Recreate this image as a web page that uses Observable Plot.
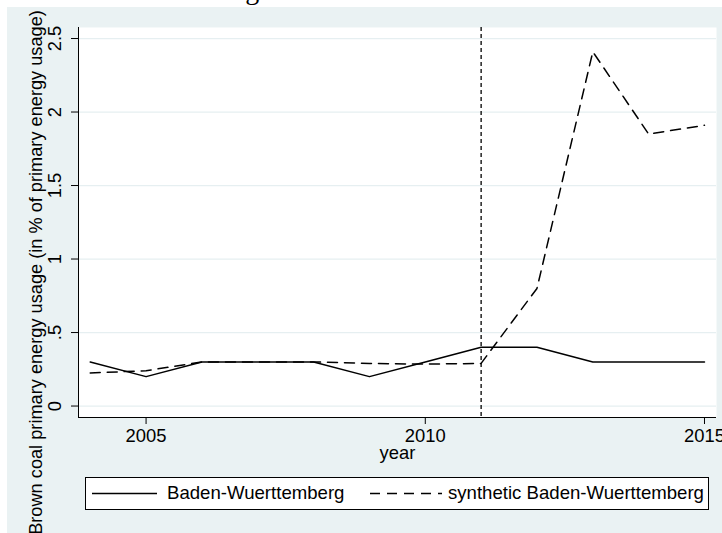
<!DOCTYPE html>
<html>
<head>
<meta charset="utf-8">
<script src="https://cdn.jsdelivr.net/npm/d3@7"></script>
<script src="https://cdn.jsdelivr.net/npm/@observablehq/plot@0.6"></script>
<style>
  html, body { margin: 0; padding: 0; background: #fff; }
  #page { position: relative; width: 722px; height: 533px; overflow: hidden; background: #fff;
          font-family: "Liberation Sans", Arial, Helvetica, sans-serif; }
  #bg { position: absolute; left: 7px; top: 7px; right: 0; bottom: 0; background: #eaf2f3; }
  #title { position: absolute; left: 0; top: 0; width: 722px; height: 8px; overflow: hidden; }
  #title span { position: absolute; left: 222px; top: -24.5px; font-family: "Liberation Serif", "DejaVu Serif", serif;
                font-size: 28px; line-height: 28px; white-space: nowrap; color: #000; }
  #chart { position: absolute; left: 0; top: 0; }
  #legend { position: absolute; left: 85px; top: 477px; width: 622px; height: 31px; background: #fff;
            border: 1px solid #000; font-size: 18.6px; color: #000; }
  #legend svg { position: absolute; top: 0; }
  #legend .lab { position: absolute; top: 5px; white-space: nowrap; line-height: 20px; }
</style>
</head>
<body>
<div id="page">
  <div id="bg"></div>
  <div id="title"><span>Figure 12: Brown Coal</span></div>
  <div id="chart"></div>
  <div id="legend"></div>
</div>
<script>
// ---- data ----
const years = [2004, 2005, 2006, 2007, 2008, 2009, 2010, 2011, 2012, 2013, 2014, 2015];
const bwValues = [0.3, 0.2, 0.3, 0.3, 0.3, 0.2, 0.3, 0.4, 0.4, 0.3, 0.3, 0.3];
const synthValues = [0.225, 0.24, 0.3, 0.3, 0.3, 0.29, 0.285, 0.29, 0.8, 2.41, 1.85, 1.91];
const seriesNames = ["Baden-Wuerttemberg", "synthetic Baden-Wuerttemberg"];
const xTicks = [2005, 2010, 2015];
const yTicks = [0, 0.5, 1, 1.5, 2, 2.5];
const yTickLabels = ["0", ".5", "1", "1.5", "2", "2.5"];
const treatmentYear = [2011];
const xTitle = "year";
const yTitle = "Brown coal primary energy usage (in % of primary energy usage)";

const bwData = years.map((y, i) => ({year: y, value: bwValues[i]}));
const synthData = years.map((y, i) => ({year: y, value: synthValues[i]}));

const xDomain = [2003.79, 2015.215];
const yDomain = [-0.078, 2.575];

const chart = Plot.plot({
  width: 722,
  height: 533,
  marginLeft: 78,
  marginRight: 6,
  marginTop: 27,
  marginBottom: 116,
  style: {background: "transparent", fontFamily: "'Liberation Sans', Arial, Helvetica, sans-serif", fontSize: "18px", color: "#000", overflow: "visible"},
  x: {domain: xDomain},
  y: {domain: yDomain},
  marks: [
    Plot.frame({fill: "white", stroke: "none"}),
    Plot.gridY(yTicks, {stroke: "#e6eff1", strokeOpacity: 1, strokeWidth: 1.3}),
    Plot.ruleX(treatmentYear, {stroke: "#000", strokeWidth: 1.3, strokeDasharray: "4,3"}),
    Plot.line(bwData, {x: "year", y: "value", stroke: "#000", strokeWidth: 1.5}),
    Plot.line(synthData, {x: "year", y: "value", stroke: "#000", strokeWidth: 1.5, strokeDasharray: "10,7"}),
    Plot.ruleX([xDomain[0]], {stroke: "#000", strokeWidth: 1}),
    Plot.ruleY([yDomain[0]], {stroke: "#000", strokeWidth: 1}),
    Plot.axisY({ticks: yTicks, tickSize: 7, tickFormat: () => "", label: null, stroke: "#000"}),
    Plot.text(yTicks, {y: d => d, text: (d, i) => yTickLabels[i], frameAnchor: "left", textAnchor: "middle", rotate: -90, dx: -23, fontSize: 18.4, fill: "#000"}),
    Plot.axisX({ticks: xTicks, tickSize: 7, tickPadding: 4, tickFormat: d => String(d), label: null, fontSize: 18.4, stroke: "#000"}),
    Plot.text([xTitle], {frameAnchor: "bottom", textAnchor: "middle", dy: 41, text: d => d, fontSize: 18.4, fill: "#000"}),
    Plot.text([yTitle], {frameAnchor: "left", textAnchor: "middle", rotate: -90, dx: -42, dy: 50, text: d => d, fontSize: 18.2, fill: "#000"})
  ]
});
document.getElementById("chart").appendChild(chart);

// ---- legend ----
const legend = document.getElementById("legend");
const legendItems = [
  {name: seriesNames[0], dash: null, x0: 6, x1: 71, labX: 81},
  {name: seriesNames[1], dash: "10,7", x0: 284, x1: 356, labX: 362}
];
legendItems.forEach(it => {
  const svg = d3.create("svg").attr("width", it.x1 + 2).attr("height", 31).style("left", "0px");
  svg.append("line").attr("x1", it.x0).attr("x2", it.x1).attr("y1", 15.5).attr("y2", 15.5)
    .attr("stroke", "#000").attr("stroke-width", 1.5).attr("stroke-dasharray", it.dash);
  legend.appendChild(svg.node());
  const lab = document.createElement("div");
  lab.className = "lab";
  lab.style.left = it.labX + "px";
  lab.textContent = it.name;
  legend.appendChild(lab);
});
</script>
</body>
</html>
